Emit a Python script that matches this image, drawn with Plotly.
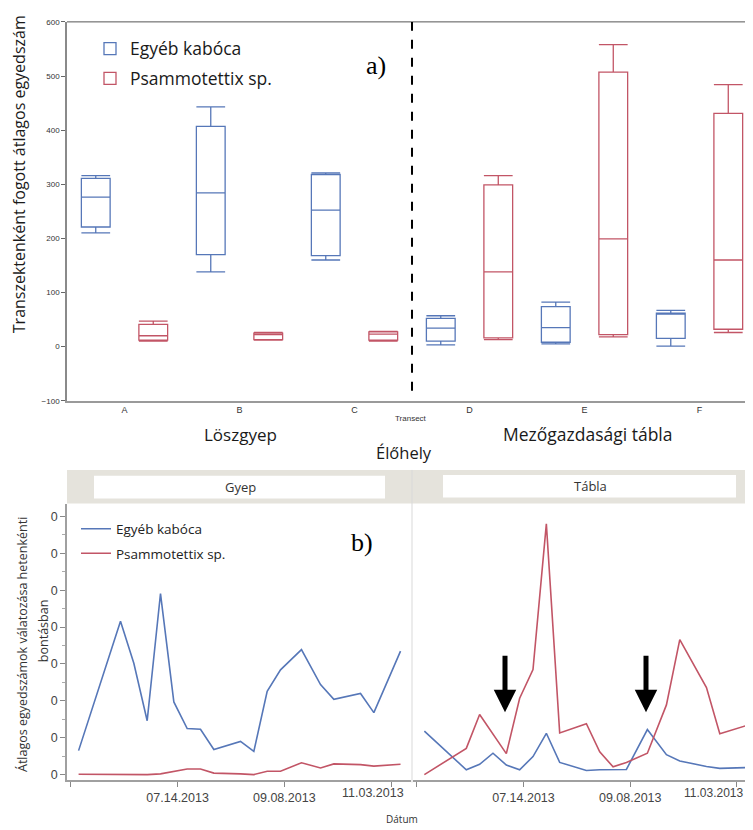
import plotly.graph_objects as go

# ---------- data: panel a) box plots ----------
categories = ["A", "B", "C", "D", "E", "F"]
egyeb_lower = [210, 138, 160, 3, 5, 1]
egyeb_q1 = [221, 170, 168, 10, 8, 15]
egyeb_median = [276, 284, 252, 34, 35, 61]
egyeb_q3 = [311, 407, 318, 52, 74, 62]
egyeb_upper = [316, 443, 321, 57, 82, 67]

psammo_lower = [10, 12, 10, 13, 18, 26]
psammo_q1 = [12, 13, 12, 16, 22, 32]
psammo_median = [20, 22, 23, 138, 199, 160]
psammo_q3 = [41, 25, 27, 299, 507, 431]
psammo_upper = [47, 26, 28, 316, 558, 484]

top_yticks = [-100, 0, 100, 200, 300, 400, 500, 600]

# ---------- data: panel b) weekly lines ----------
dates = ["2013-05-23", "2013-06-14", "2013-06-21", "2013-06-28", "2013-07-05",
         "2013-07-12", "2013-07-19", "2013-07-26", "2013-08-02", "2013-08-16",
         "2013-08-23", "2013-08-30", "2013-09-06", "2013-09-17", "2013-09-27",
         "2013-10-04", "2013-10-18", "2013-10-25", "2013-11-08"]
gyep_egyeb = [0.65, 4.16, 3.02, 1.46, 4.91, 1.97, 1.25, 1.23, 0.68, 0.90,
              0.63, 2.26, 2.84, 3.39, 2.44, 2.04, 2.20, 1.68, 3.35]
gyep_psammo = [0.01, 0.0, 0.01, 0.0, 0.02, 0.08, 0.15, 0.15, 0.04, 0.02,
               0.0, 0.09, 0.09, 0.32, 0.18, 0.29, 0.27, 0.23, 0.28]
tabla_egyeb = [1.18, 0.13, 0.28, 0.58, 0.26, 0.13, 0.49, 1.12, 0.33, 0.11,
               0.13, 0.13, 0.14, 1.22, 0.54, 0.37, 0.22, 0.17, 0.19]
tabla_psammo = [0.0, 0.71, 1.63, 1.10, 0.57, 2.07, 2.85, 6.80, 1.13, 1.38,
                0.62, 0.21, 0.33, 0.58, 1.89, 3.66, 2.36, 1.11, 1.33]

bottom_ytick_vals = [0, 1, 2, 3, 4, 5, 6, 7]
bottom_ytick_text = ["0", "0", "0", "0", "0", "0", "0", "0"]
date_tick_vals = ["2013-05-19", "2013-07-14", "2013-09-08", "2013-11-03"]
date_tick_text = ["", "07.14.2013", "09.08.2013", ""]
last_date_label = "11.03.2013"   # drawn shifted left of its tick, as in the original

BLUE = "#5677b8"
RED = "#c25566"
OFF = 8            # page body margin of the html page
FW, FH = 753 - OFF, 830 - OFF


def px_x(x):
    return (x - OFF) / FW


def px_y(y):
    return (FH - (y - OFF)) / FH


fig = go.Figure()

fig.add_trace(go.Box(
    x=categories, q1=egyeb_q1, median=egyeb_median, q3=egyeb_q3,
    lowerfence=egyeb_lower, upperfence=egyeb_upper,
    name="Egyéb kabóca", boxpoints=False, whiskerwidth=1,
    fillcolor="rgba(255,255,255,0)", line=dict(color=BLUE, width=1.3),
    xaxis="x", yaxis="y", legend="legend", legendgroup="g1",
))
fig.add_trace(go.Box(
    x=categories, q1=psammo_q1, median=psammo_median, q3=psammo_q3,
    lowerfence=psammo_lower, upperfence=psammo_upper,
    name="Psammotettix sp.", boxpoints=False, whiskerwidth=1,
    fillcolor="rgba(255,255,255,0)", line=dict(color=RED, width=1.3),
    xaxis="x", yaxis="y", legend="legend", legendgroup="g2",
))

fig.add_trace(go.Scatter(x=dates, y=gyep_egyeb, mode="lines", name="Egyéb kabóca",
                         line=dict(color=BLUE, width=1.6), xaxis="x2", yaxis="y2",
                         legend="legend2", legendgroup="h1"))
fig.add_trace(go.Scatter(x=dates, y=gyep_psammo, mode="lines", name="Psammotettix sp.",
                         line=dict(color=RED, width=1.6), xaxis="x2", yaxis="y2",
                         legend="legend2", legendgroup="h2"))
fig.add_trace(go.Scatter(x=dates, y=tabla_egyeb, mode="lines", name="Egyéb kabóca",
                         line=dict(color=BLUE, width=1.6), xaxis="x3", yaxis="y3",
                         showlegend=False))
fig.add_trace(go.Scatter(x=dates, y=tabla_psammo, mode="lines", name="Psammotettix sp.",
                         line=dict(color=RED, width=1.6), xaxis="x3", yaxis="y3",
                         showlegend=False))

tickfont_small = dict(family="Liberation Sans", size=8, color="#333")
datefont = dict(family="Liberation Sans", size=12.5, color="#444")

shapes = [
    # top frame line of panel a
    dict(type="line", xref="paper", yref="paper", x0=px_x(67), x1=1,
         y0=px_y(18), y1=px_y(18), line=dict(color="#555", width=1)),
    # dashed divider
    dict(type="line", xref="x", yref="paper", x0=2.5, x1=2.5,
         y0=px_y(391), y1=px_y(18), line=dict(color="black", width=2, dash="dash")),
    # strip background
    dict(type="rect", xref="paper", yref="paper", x0=px_x(67), x1=1,
         y0=px_y(505), y1=px_y(471), fillcolor="#e5e3dc", line=dict(width=0), layer="below"),
    dict(type="rect", xref="paper", yref="paper", x0=px_x(94), x1=px_x(385),
         y0=px_y(500), y1=px_y(477), fillcolor="white", line=dict(width=0)),
    dict(type="rect", xref="paper", yref="paper", x0=px_x(443), x1=px_x(736),
         y0=px_y(499), y1=px_y(476), fillcolor="white", line=dict(width=0)),
    # panel divider
    dict(type="line", xref="paper", yref="paper", x0=px_x(412), x1=px_x(412),
         y0=px_y(787), y1=px_y(471), line=dict(color="#d9d9d9", width=1)),
]

ann = []


def text(x, y, s, size, family="Open Sans", color="#1a1a1a", angle=0, xanchor="center"):
    ann.append(dict(xref="paper", yref="paper", x=px_x(x), y=px_y(y), text=s,
                    showarrow=False, xanchor=xanchor, yanchor="middle",
                    textangle=angle, font=dict(family=family, size=size, color=color)))


text(376, 62, "a)", 26, family="Liberation Serif", color="black")
text(362, 544, "b)", 26, family="Liberation Serif", color="black")
text(19, 172, "Transzektenként fogott átlagos egyedszám", 16, angle=-90)
text(411, 419, "Transect", 8, family="Liberation Sans", color="#333")
text(240, 435, "Löszgyep", 17)
text(588, 435, "Mezőgazdasági tábla", 17.5)
text(404, 453, "Élőhely", 16.5)
text(240, 488, "Gyep", 13, color="#333")
text(590, 487, "Tábla", 13, color="#333")
text(23, 648, "Átlagos egyedszámok válatozása hetenkénti", 12.5, color="#333", angle=-90)
text(43, 634, "bontásban", 12.5, color="#333", angle=-90)
text(402, 824, "Dátum", 10, color="#333")
text(373, 798, last_date_label, datefont["size"], family=datefont["family"], color=datefont["color"])
text(745, 798, last_date_label, 12, family=datefont["family"], color=datefont["color"],
     xanchor="right")

for ax_x in (505, 646):
    ann.append(dict(xref="paper", yref="paper", x=px_x(ax_x), y=px_y(716),
                    ax=0, ay=-58, text="", showarrow=True, arrowhead=2,
                    arrowsize=0.9, arrowwidth=5, arrowcolor="black", standoff=0))

fig.update_layout(
    width=FW, height=FH,
    margin=dict(l=0, r=0, t=0, b=0),
    paper_bgcolor="white", plot_bgcolor="white",
    boxmode="group", boxgap=0.0, boxgroupgap=0.5,
    shapes=shapes, annotations=ann,
    xaxis=dict(domain=[px_x(67), 1], anchor="y", type="category",
               categoryorder="array", categoryarray=categories,
               range=[-0.5, 5.465], showline=True, linecolor="#9a9a9a", linewidth=2,
               ticks="", tickfont=dict(family="Liberation Sans", size=9, color="#333"),
               showgrid=False, zeroline=False),
    yaxis=dict(domain=[px_y(401), px_y(18)], anchor="x", range=[-100, 600],
               tickvals=top_yticks, showline=True, linecolor="#8a8a8a", linewidth=1.5,
               ticks="outside", ticklen=4, tickcolor="#666", tickfont=tickfont_small,
               showgrid=False, zeroline=False),
    xaxis2=dict(domain=[px_x(67), px_x(411)], anchor="y2", type="date",
                range=["2013-05-16 22:00", "2013-11-13 12:00"],
                tickvals=date_tick_vals, ticktext=date_tick_text,
                showline=True, linecolor="#a0a0a0", linewidth=1.5,
                ticks="outside", ticklen=5, tickcolor="#888", tickfont=datefont,
                showgrid=False, zeroline=False),
    yaxis2=dict(domain=[px_y(785), px_y(505)], anchor="x2", range=[-0.16, 7.35],
                tickvals=bottom_ytick_vals, ticktext=bottom_ytick_text,
                showline=True, linecolor="#a0a0a0", linewidth=1.5,
                ticks="outside", ticklen=5, tickcolor="#888",
                minor=dict(ticks="outside", ticklen=3, dtick=0.5, tickcolor="#aaa"),
                tickfont=datefont, showgrid=False, zeroline=False),
    xaxis3=dict(domain=[px_x(413), 1], anchor="y3", type="date",
                range=["2013-05-17 01:00", "2013-11-11 10:00"],
                tickvals=date_tick_vals, ticktext=date_tick_text,
                showline=True, linecolor="#a0a0a0", linewidth=1.5,
                ticks="outside", ticklen=5, tickcolor="#888", tickfont=datefont,
                showgrid=False, zeroline=False),
    yaxis3=dict(domain=[px_y(785), px_y(505)], anchor="x3", matches="y2",
                showticklabels=False, showline=False, ticks="",
                showgrid=False, zeroline=False),
    legend=dict(x=px_x(90), y=px_y(27), xanchor="left", yanchor="top",
                bgcolor="rgba(0,0,0,0)", tracegroupgap=4,
                font=dict(family="Open Sans", size=17.5, color="#1a1a1a")),
    legend2=dict(x=px_x(76), y=px_y(515), xanchor="left", yanchor="top",
                 bgcolor="rgba(0,0,0,0)", tracegroupgap=4,
                 font=dict(family="Open Sans", size=13.5, color="#222")),
)

fig.write_html("out.html")
